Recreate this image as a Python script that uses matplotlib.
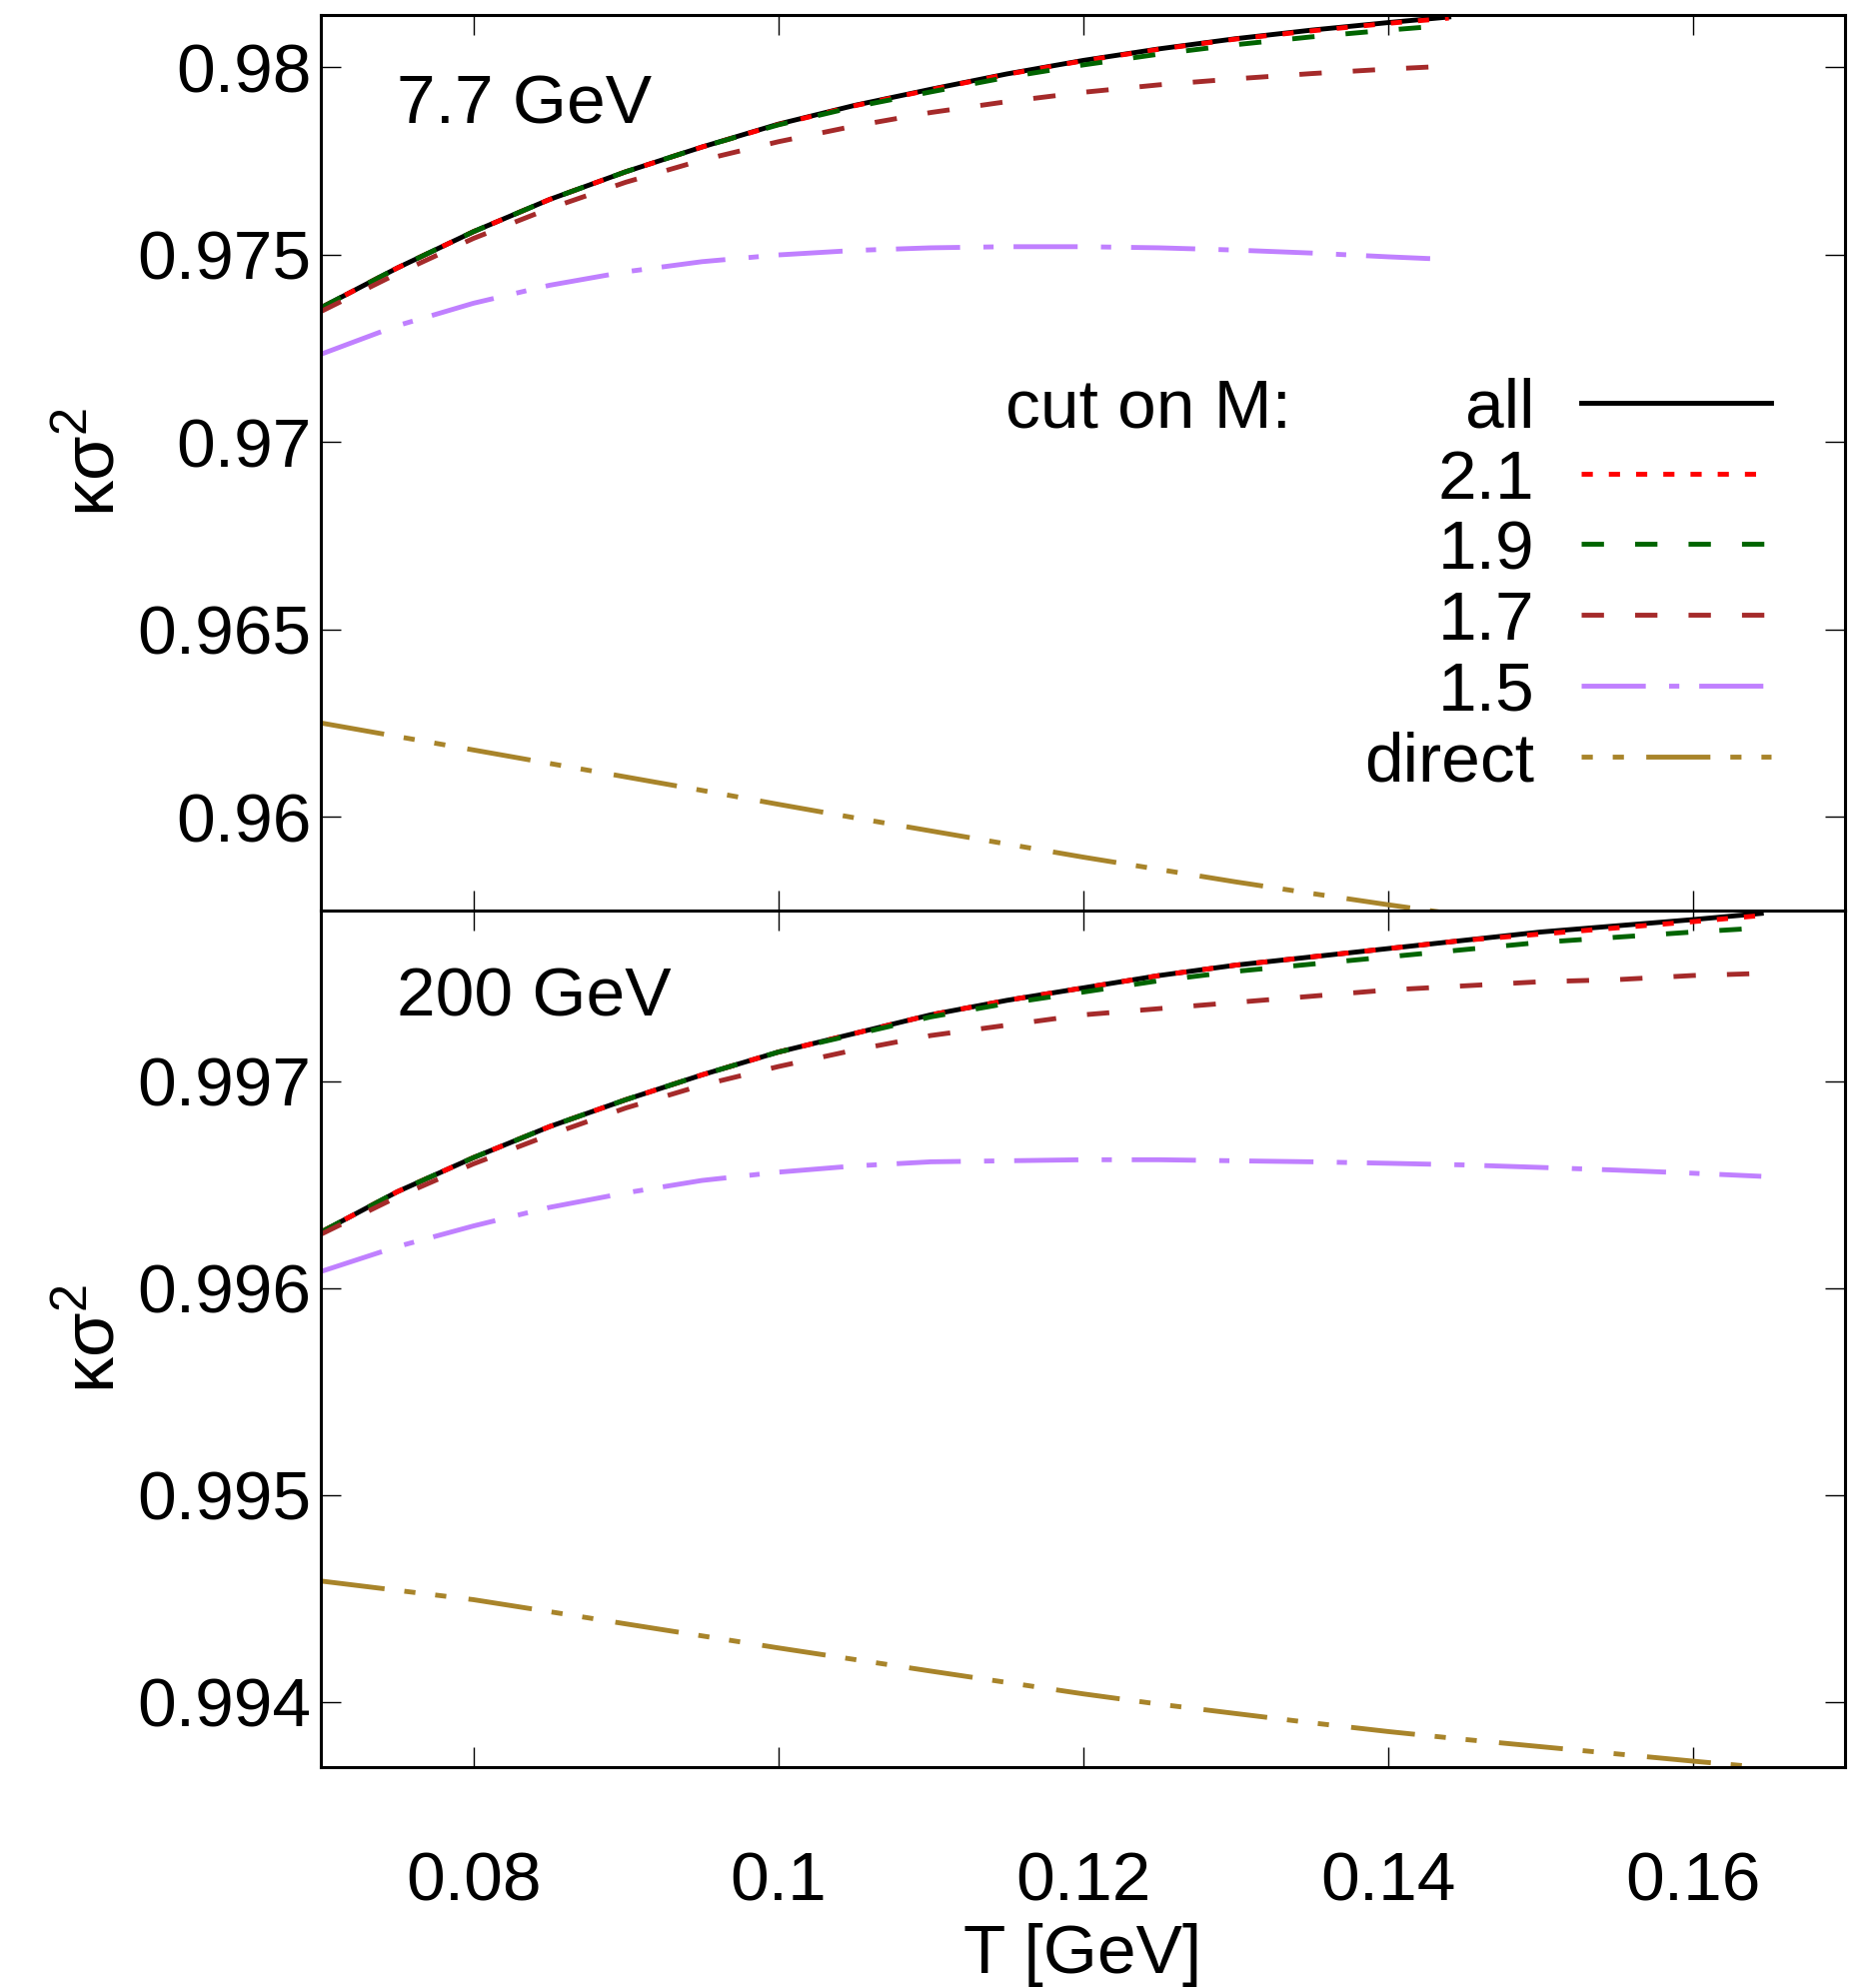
import numpy as np
import matplotlib
matplotlib.use("Agg")
import matplotlib.pyplot as plt

plt.rcParams['font.family'] = ['Liberation Sans', 'DejaVu Sans']
plt.rcParams['mathtext.fontset'] = 'custom'
plt.rcParams['mathtext.rm'] = 'Liberation Sans'
plt.rcParams['mathtext.it'] = 'Liberation Sans:italic'

# --- 7.7 GeV ---
T_77 = [0.070, 0.075, 0.080, 0.085, 0.090, 0.095, 0.100, 0.105,
        0.110, 0.115, 0.120, 0.125, 0.130, 0.135, 0.140, 0.144]
all_77 = [0.97358, 0.97464, 0.97561, 0.97647, 0.97721, 0.97787, 0.97848, 0.97898,
          0.97941, 0.97982, 0.98018, 0.98049, 0.98076, 0.98099, 0.98119, 0.98134]
m21_77 = [0.97358, 0.97464, 0.97561, 0.97647, 0.97721, 0.97787, 0.97847, 0.97897,
          0.97940, 0.97981, 0.98017, 0.98048, 0.98075, 0.98097, 0.98117, 0.98131]
m19_77 = [0.97358, 0.97464, 0.97561, 0.97647, 0.97721, 0.97787, 0.97846, 0.97894,
          0.97934, 0.97973, 0.98006, 0.98035, 0.98060, 0.98081, 0.98099, 0.98112]
m17_77 = [0.97348, 0.97449, 0.97543, 0.97623, 0.97693, 0.97752, 0.97801, 0.97843,
          0.97879, 0.97908, 0.97933, 0.97953, 0.97969, 0.97983, 0.97995, 0.98003]
m15_77 = [0.97234, 0.97310, 0.97370, 0.97418, 0.97454, 0.97481, 0.97499, 0.97511,
          0.97518, 0.97521, 0.97521, 0.97518, 0.97512, 0.97504, 0.97494, 0.97487]
direct_77 = [0.96250, 0.96214, 0.96178, 0.96142, 0.96106, 0.96070, 0.96033, 0.95997,
             0.95962, 0.95927, 0.95892, 0.95859, 0.95826, 0.95795, 0.95765, 0.95742]

# --- 200 GeV ---
T_200 = [0.070, 0.075, 0.080, 0.085, 0.090, 0.095, 0.100, 0.105, 0.110, 0.115,
         0.120, 0.125, 0.130, 0.135, 0.140, 0.145, 0.150, 0.155, 0.160, 0.1645]
all_200 = [0.99627, 0.996465, 0.99663, 0.99678, 0.99691, 0.99703, 0.99714, 0.99723, 0.99732, 0.99739,
           0.99745, 0.99751, 0.99756, 0.99760, 0.99764, 0.99768, 0.99772, 0.99775, 0.99778, 0.99781]
m21_200 = [0.99627, 0.996465, 0.99663, 0.99678, 0.99691, 0.99703, 0.99714, 0.99723, 0.99732, 0.99739,
           0.99745, 0.99751, 0.99756, 0.99760, 0.99764, 0.99768, 0.99771, 0.99774, 0.99777, 0.99780]
m19_200 = [0.99627, 0.996465, 0.99663, 0.99678, 0.99691, 0.99703, 0.99714, 0.997225, 0.99731, 0.997375,
           0.99743, 0.997485, 0.99753, 0.997565, 0.99760, 0.997635, 0.99767, 0.997695, 0.99772, 0.99774]
m17_200 = [0.99626, 0.99644, 0.99660, 0.99674, 0.99687, 0.99698, 0.99707, 0.99715, 0.99722, 0.99727,
           0.99732, 0.99735, 0.99738, 0.99741, 0.99744, 0.99746, 0.99748, 0.99749, 0.99751, 0.99752]
m15_200 = [0.99608, 0.99620, 0.99630, 0.99639, 0.99646, 0.99652, 0.99656, 0.99659, 0.99661, 0.996615,
           0.99662, 0.99662, 0.996615, 0.99661, 0.996603, 0.996595, 0.996583, 0.99657, 0.996555, 0.99654]
direct_200 = [0.994585, 0.99454, 0.994495, 0.994437, 0.994378, 0.99432, 0.994262, 0.994206, 0.99415, 0.994095,
              0.99404, 0.99399, 0.993945, 0.99390, 0.993858, 0.99382, 0.993785, 0.99375, 0.993715, 0.993685]

labels = ['all', '2.1', '1.9', '1.7', '1.5', 'direct']
x_ticks = [0.08, 0.10, 0.12, 0.14, 0.16]
x_ticklabels = ['0.08', '0.1', '0.12', '0.14', '0.16']
y_ticks_77 = [0.96, 0.965, 0.97, 0.975, 0.98]
y_ticklabels_77 = ['0.96', '0.965', '0.97', '0.975', '0.98']
y_ticks_200 = [0.994, 0.995, 0.996, 0.997]
y_ticklabels_200 = ['0.994', '0.995', '0.996', '0.997']

LW = 3.5
styles = [
    dict(color='black', lw=LW, ls='-'),
    dict(color='#ff0000', lw=LW, ls=(0, (2.3, 3.3))),
    dict(color='#006400', lw=LW, ls=(0, (4.6, 6.4))),
    dict(color='#a52a2a', lw=LW, ls=(0, (4.6, 6.4))),
    dict(color='#c080ff', lw=LW, ls=(0, (13.2, 4.8, 2.1, 4.1))),
    dict(color='#a8842a', lw=LW, ls=(0, (13.2, 4.1, 2.3, 4.1, 2.3, 4.6))),
]

FS = 50

fig = plt.figure(figsize=(18.71, 19.89), dpi=100)
ax1 = fig.add_axes([0.1716, 0.5421, 0.8151, 0.4503])
ax2 = fig.add_axes([0.1716, 0.1110, 0.8151, 0.4311])

for y, st in zip([all_77, m21_77, m19_77, m17_77, m15_77, direct_77], styles):
    ax1.plot(T_77, y, **st)
for y, st in zip([all_200, m21_200, m19_200, m17_200, m15_200, direct_200], styles):
    ax2.plot(T_200, y, **st)

ax1.set_ylim(0.9575, 0.98139)
ax2.set_ylim(0.993685, 0.997825)

for ax in (ax1, ax2):
    ax.set_xlim(0.07, 0.17)
    ax.set_xticks(x_ticks)
    for s in ax.spines.values():
        s.set_linewidth(2.2)
    ax.tick_params(direction='in', length=14.4, width=1.0, top=True, right=True,
                   labelsize=FS)
    ax.tick_params(axis='y', pad=7)
    ax.set_ylabel('κσ$^{2}$', fontsize=FS + 2)
    ax.yaxis.set_label_coords(-0.126, 0.5)

ax1.set_yticks(y_ticks_77)
ax1.set_yticklabels(y_ticklabels_77)
ax1.tick_params(axis='x', labelbottom=False)
ax2.set_yticks(y_ticks_200)
ax2.set_yticklabels(y_ticklabels_200)
ax2.set_xticklabels(x_ticklabels)
ax2.tick_params(axis='x', pad=60)
ax2.set_xlabel('T [GeV]', fontsize=FS)
ax2.xaxis.set_label_coords(0.5, -0.182)

ax1.text(0.0498, 0.8795, '7.7 GeV', transform=ax1.transAxes, fontsize=FS,
         ha='left', va='baseline')
ax2.text(0.0498, 0.8763, '200 GeV', transform=ax2.transAxes, fontsize=FS,
         ha='left', va='baseline')

# key, drawn inside the upper panel
row0, drow = 0.5670, 0.0790
ax1.text(0.4492, row0 - 0.0279, 'cut on M:', transform=ax1.transAxes,
         fontsize=FS, ha='left', va='baseline')
for i, (lab, st) in enumerate(zip(labels, styles)):
    yl = row0 - i * drow
    ax1.text(0.7961, yl - 0.0279, lab, transform=ax1.transAxes,
             fontsize=FS, ha='right', va='baseline')
    key_st = dict(st)
    if lab == 'direct':
        # start the key sample on a dot
        key_st['ls'] = (13.2 + 4.1, st['ls'][1])
    ax1.plot([0.8269, 0.9515], [yl, yl], transform=ax1.transAxes,
             clip_on=False, **key_st)

fig.savefig('out.png', dpi=100)
